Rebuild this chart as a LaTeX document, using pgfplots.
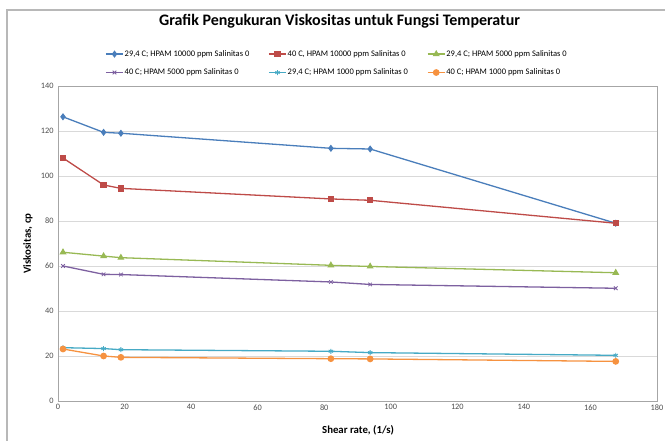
\documentclass[border=0pt]{standalone}
\usepackage{pgfplots}
\pgfplotsset{compat=1.18}
\usepackage{fontspec}
\setmainfont{Carlito}
\definecolor{cblue}{HTML}{4A7EBB}
\definecolor{cred}{HTML}{BE4B48}
\definecolor{cgreen}{HTML}{98B954}
\definecolor{cpurple}{HTML}{7D60A0}
\definecolor{caqua}{HTML}{46AAC5}
\definecolor{corange}{HTML}{F69240}
\definecolor{gridc}{HTML}{D9D9D9}
\definecolor{axc}{HTML}{A6A6A6}
\begin{document}
\begin{tikzpicture}[x=1pt,y=1pt]
\useasboundingbox (0,0) rectangle (665,441);
\draw[color=axc!80, line width=1.2pt] (7,0) -- (7,431) -- (665,431);
\begin{axis}[
  at={(58pt,40pt)}, anchor=south west,
  scale only axis, width=599pt, height=315pt,
  xmin=0, xmax=180, ymin=0, ymax=140,
  xtick={0,20,...,180}, ytick={0,20,...,140},
  ymajorgrids, grid style={gridc, line width=0.6pt},
  axis line style={axc, line width=0.8pt},
  tick style={draw=none},
  ticklabel style={font=\fontsize{8.3}{9}\selectfont, text=black!70},
  /pgf/number format/assume math mode=true,
  xticklabel style={yshift=0pt},
  yticklabel style={xshift=-1pt},
  xlabel={\textbf{Shear rate, (1/s)}},
  ylabel={\textbf{Viskositas, cp}},
  label style={font=\fontsize{10.8}{12}\selectfont},
  xlabel style={at={(axis description cs:0.501,-0.092)}, anchor=center},
  ylabel style={at={(axis description cs:-0.05,0.5)}, anchor=center, rotate=0},
  title={\textbf{Grafik Pengukuran Viskositas untuk Fungsi Temperatur}},
  title style={font=\fontsize{16}{18}\selectfont, at={(axis description cs:0.47,1.187)}, anchor=center},
  legend columns=3,
  legend style={at={(axis description cs:0.465,1.072)}, anchor=center, draw=none, fill=none,
    font=\fontsize{8.5}{9}\selectfont, /tikz/every even column/.append style={column sep=18pt},
    nodes={inner xsep=1pt}, row sep=7pt},
  legend cell align=left,
  every axis plot/.append style={line width=1.3pt},
]
\addplot[cblue, mark=diamond*, mark size=2.6pt, mark options={solid}] coordinates {
(1.5,126.3) (13.7,119.4) (18.9,119) (82,112.3) (93.8,112) (167.6,79)};
\addlegendentry{29,4 C; HPAM 10000 ppm Salinitas 0}
\addplot[cred, mark=square*, mark size=2.5pt] coordinates {
(1.5,108) (13.7,96) (18.9,94.5) (82,89.8) (93.8,89.2) (167.6,79)};
\addlegendentry{40 C, HPAM 10000 ppm Salinitas 0}
\addplot[cgreen, mark=triangle*, mark size=2.8pt] coordinates {
(1.5,66.1) (13.7,64.4) (18.9,63.7) (82,60.3) (93.8,59.8) (167.6,57)};
\addlegendentry{29,4 C; HPAM 5000 ppm Salinitas 0}
\addplot[cpurple, mark=x, mark size=2.5pt, mark options={line width=0.8pt}] coordinates {
(1.5,60) (13.7,56.3) (18.9,56.2) (82,52.9) (93.8,51.8) (167.6,50.1)};
\addlegendentry{40 C; HPAM 5000 ppm Salinitas 0}
\addplot[caqua, mark=asterisk, mark size=2.5pt, mark options={line width=0.8pt}] coordinates {
(1.5,23.7) (13.7,23.3) (18.9,22.8) (82,22.1) (93.8,21.5) (167.6,20.3)};
\addlegendentry{29,4 C; HPAM 1000 ppm Salinitas 0}
\addplot[corange, mark=*, mark size=2.7pt] coordinates {
(1.5,23.1) (13.7,20) (18.9,19.4) (82,18.8) (93.8,18.7) (167.6,17.6)};
\addlegendentry{40 C; HPAM 1000 ppm Salinitas 0}
\end{axis}
\end{tikzpicture}
\end{document}
